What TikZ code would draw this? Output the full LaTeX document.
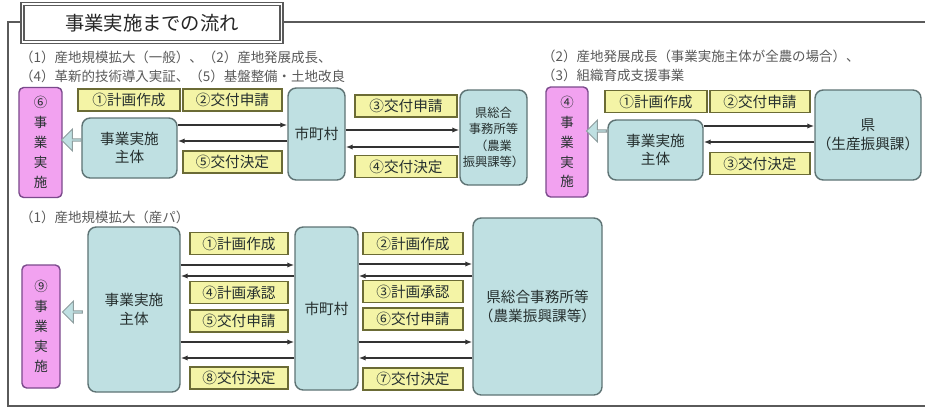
\documentclass[tikz,border=0pt]{standalone}
\usepackage{fontspec}
\setmainfont{Noto Sans CJK JP}
\usetikzlibrary{shapes.arrows,arrows.meta}

\definecolor{pinkfill}{HTML}{F2A2F0}
\definecolor{pinkline}{HTML}{7B4A8C}
\definecolor{bluefill}{HTML}{BFE0E2}
\definecolor{blueline}{HTML}{5E7374}
\definecolor{tagfill}{HTML}{F4F4A6}
\definecolor{tagline}{HTML}{6B6B35}
\definecolor{frameline}{HTML}{5A5A5A}
\definecolor{inktext}{HTML}{26302F}

\tikzset{
  doit/.style={draw=pinkline, fill=pinkfill, line width=1.2pt, rounded corners=4pt,
    inner sep=0pt, align=center, text=inktext, font=\fontsize{11.5}{17}\selectfont},
  party/.style={draw=blueline, fill=bluefill, line width=1.2pt, rounded corners=7pt,
    inner sep=0pt, align=center, text=inktext, font=\fontsize{12.5}{16}\selectfont},
  tag/.style={draw=tagline, fill=tagfill, line width=1.2pt, inner sep=0pt,
    minimum width=3cm, minimum height=0.66cm, text=inktext,
    font=\fontsize{12.5}{14}\selectfont},
  flow/.style={draw=black!80, line width=1.1pt, -{Latex[length=6pt,width=4.5pt]}},
  fat/.style={single arrow, draw=blueline!70, fill=bluefill, line width=0.8pt,
    shape border rotate=180, minimum width=0.66cm, minimum height=0.6cm,
    single arrow head extend=0.12cm, inner sep=0pt},
  note/.style={anchor=west, text=black!65, font=\fontsize{11.5}{13}\selectfont, inner sep=0pt},
  titlebox/.style={draw=frameline, double=white, double distance=1pt, line width=1.4pt,
    fill=white, minimum width=7.77cm, minimum height=1.14cm, text=black!85,
    font=\fontsize{16.5}{18}\selectfont}
}

\begin{document}
\begin{tikzpicture}[x=0.03cm,y=-0.03cm]
	\useasboundingbox (0,0) rectangle (925,409);
	% frame and title
	\draw[frameline, line width=1.5pt] (925,22) -- (8,22) -- (8,406) -- (925,406);
	\node[titlebox] (title) at (152,23) {事業実施までの流れ};
	\node[note] (noteA1) at (20,57) {（1）産地規模拡大（一般）、（2）産地発展成長、};
	\node[note] (noteA2) at (20,76) {（4）革新的技術導入実証、（5）基盤整備・土地改良};
	\node[note] (noteB1) at (542,56) {（2）産地発展成長（事業実施主体が全農の場合）、};
	\node[note] (noteB2) at (542,75) {（3）組織育成支援事業};
	\node[note] (noteC1) at (20,217) {（1）産地規模拡大（産パ）};

	% top left
	\node[doit, minimum width=1.29cm, minimum height=3.3cm] (pinkA) at (40.5,142.5) {⑥\\事\\業\\実\\施};
	\node[party, minimum width=2.85cm, minimum height=1.8cm] (bodyA) at (129.5,148) {事業実施\\主体};
	\node[fat] (armA) at (72,140) {};
	\node[tag, minimum width=3.06cm] (tagA1) at (129,100) {①計画作成};
	\node[tag, minimum width=2.97cm] (tagA2) at (232.5,100) {②交付申請};
	\node[tag, minimum width=2.97cm] (tagA5) at (232.5,162) {⑤交付決定};
	\node[party, minimum width=1.71cm, minimum height=2.76cm] (cityA) at (316.5,134) {市町村};
	\node[tag, minimum width=3.06cm] (tagA3) at (406,106) {③交付申請};
	\node[tag, minimum width=3.06cm] (tagA4) at (406,166.5) {④交付決定};
	\node[party, minimum width=2.01cm, minimum height=2.85cm, font=\fontsize{10.5}{14}\selectfont] (prefA) at (493.5,137.5) {県総合\\事務所等\\（農業\\振興課等）};
	\draw[flow] (bodyA.east |- 0,125) -- (cityA.west |- 0,125);
	\draw[flow] (cityA.west |- 0,141) -- (bodyA.east |- 0,141);
	\draw[flow] (cityA.east |- 0,130) -- (prefA.west |- 0,130);
	\draw[flow] (prefA.west |- 0,147) -- (cityA.east |- 0,147);

	% top right
	\node[doit, minimum width=1.26cm, minimum height=3.3cm] (pinkB) at (567,142) {④\\事\\業\\実\\施};
	\node[party, minimum width=2.85cm, minimum height=1.8cm] (bodyB) at (655.5,150) {事業実施\\主体};
	\node[fat] (armB) at (597,131) {};
	\node[tag, minimum width=3.06cm] (tagB1) at (656,101.5) {①計画作成};
	\node[tag] (tagB2) at (760,101.5) {②交付申請};
	\node[tag] (tagB3) at (760,163.5) {③交付決定};
	\node[party, minimum width=3.18cm, minimum height=2.7cm] (prefB) at (868,135) {県\\（生産振興課）};
	\draw[flow] (bodyB.east |- 0,126) -- (prefB.west |- 0,126);
	\draw[flow] (prefB.west |- 0,142) -- (bodyB.east |- 0,142);

	% bottom
	\node[doit, minimum width=1.14cm, minimum height=3.69cm] (pinkC) at (41,326.5) {⑨\\事\\業\\実\\施};
	\node[party, minimum width=2.76cm, minimum height=4.95cm] (bodyC) at (134,309.5) {事業実施\\主体};
	\node[fat] (armC) at (73,312) {};
	\node[tag, minimum width=2.94cm] (tagC1) at (239,243.5) {①計画作成};
	\node[tag, minimum width=2.94cm] (tagC4) at (239,292.5) {④計画承認};
	\node[tag, minimum width=2.94cm] (tagC5) at (239,321) {⑤交付申請};
	\node[tag, minimum width=2.94cm] (tagC8) at (239,378) {⑧交付決定};
	\node[party, minimum width=1.89cm, minimum height=4.89cm] (cityC) at (326.5,308.5) {市町村};
	\node[tag] (tagC2) at (413,243.5) {②計画作成};
	\node[tag] (tagC3) at (413,291.5) {③計画承認};
	\node[tag] (tagC6) at (413,319) {⑥交付申請};
	\node[tag] (tagC7) at (413,379) {⑦交付決定};
	\node[party, minimum width=3.87cm, minimum height=5.31cm] (prefC) at (537.5,306.5) {県総合事務所等\\（農業振興課等）};
	\draw[flow] (bodyC.east |- 0,265) -- (cityC.west |- 0,265);
	\draw[flow] (cityC.west |- 0,276) -- (bodyC.east |- 0,276);
	\draw[flow] (bodyC.east |- 0,342) -- (cityC.west |- 0,342);
	\draw[flow] (cityC.west |- 0,358) -- (bodyC.east |- 0,358);
	\draw[flow] (cityC.east |- 0,264) -- (prefC.west |- 0,264);
	\draw[flow] (prefC.west |- 0,276) -- (cityC.east |- 0,276);
	\draw[flow] (cityC.east |- 0,342) -- (prefC.west |- 0,342);
	\draw[flow] (prefC.west |- 0,358) -- (cityC.east |- 0,358);
\end{tikzpicture}
\end{document}
